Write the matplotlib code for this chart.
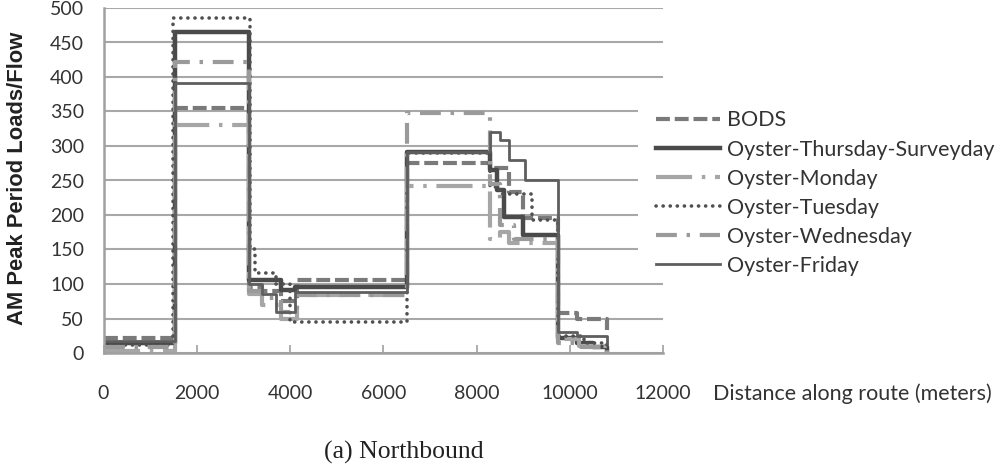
import matplotlib
matplotlib.use("Agg")
import matplotlib.pyplot as plt
from matplotlib.patches import Rectangle

plt.rcParams['lines.scale_dashes'] = False

# ---- data (distance in metres, load values; step-post) ----
labels = ["BODS", "Oyster-Thursday-Surveyday", "Oyster-Monday",
          "Oyster-Tuesday", "Oyster-Wednesday", "Oyster-Friday"]

bods_x = [0, 1530, 3120, 3400, 3800, 4150, 6500, 8300, 8700, 9000, 9750, 10150, 10800]
bods_y = [22, 355, 95, 90, 75, 106, 275, 268, 233, 196, 58, 50, 33]

thu_x = [0, 1530, 3120, 3800, 4100, 6500, 8300, 8450, 8600, 9000, 9750, 10150, 10500, 10800]
thu_y = [15, 465, 106, 91, 95, 291, 265, 236, 197, 171, 22, 15, 8, 0]

mon_x = [0, 1530, 3120, 3400, 3800, 4150, 6500, 8300, 8500, 8700, 9750, 10200, 10800]
mon_y = [3, 330, 85, 70, 50, 84, 242, 165, 175, 160, 20, 10, 0]

tue_x = [0, 1500, 3150, 3250, 3700, 4000, 6500, 8300, 8500, 9200, 9750, 10300, 10800]
tue_y = [12, 485, 150, 116, 100, 45, 290, 240, 230, 193, 25, 15, 5]

wed_x = [0, 1530, 3120, 3400, 3800, 4150, 6500, 8300, 8500, 8800, 9750, 10200, 10800]
wed_y = [8, 422, 90, 80, 60, 84, 348, 245, 185, 165, 15, 8, 0]

fri_x = [0, 1530, 3120, 3400, 3700, 4100, 6500, 8300, 8500, 8700, 9050, 9750, 10150, 10800]
fri_y = [18, 391, 100, 85, 60, 88, 292, 320, 309, 280, 251, 30, 25, 15]

x_ticks = [0, 2000, 4000, 6000, 8000, 10000, 12000]
y_ticks = [0, 50, 100, 150, 200, 250, 300, 350, 400, 450, 500]

series = [
    (bods_x, bods_y, dict(color="#7a7a7a", lw=3.0, dashes=(10, 3.5))),
    (thu_x, thu_y, dict(color="#4a4a4a", lw=3.2)),
    (mon_x, mon_y, dict(color="#a6a6a6", lw=3.0, dashes=(26, 7, 2.5, 7))),
    (tue_x, tue_y, dict(color="#505050", lw=2.6, dashes=(0.1, 5), dash_capstyle='round')),
    (wed_x, wed_y, dict(color="#9a9a9a", lw=3.0, dashes=(15, 7, 2.5, 7))),
    (fri_x, fri_y, dict(color="#5e5e5e", lw=2.0)),
]

fig = plt.figure(figsize=(9.99, 4.73), dpi=100)
ax = fig.add_axes([103.5 / 999, 1 - 353 / 473, (663 - 103.5) / 999, (353 - 8) / 473])

tick_font = "Lato"
txt_color = "#333333"

for (xs, ys, st), lab in zip(series, labels):
    ax.step(xs + [xs[-1]], ys + [ys[-1]], where="post", label=lab, **st)

ax.set_xlim(0, 12000)
ax.set_ylim(0, 500)
ax.set_xticks(x_ticks)
ax.set_yticks(y_ticks)
ax.set_xticklabels([str(v) for v in x_ticks], fontsize=14, family=tick_font, color=txt_color)
ax.set_yticklabels([str(v) for v in y_ticks], fontsize=14, family=tick_font, color=txt_color)
ax.tick_params(axis="x", direction="in", length=6, width=1.2, color="#a0a0a0", pad=23)
ax.tick_params(axis="y", length=0, pad=14)
ax.grid(axis="y", color="#a8a8a8", lw=1.5)
ax.set_axisbelow(True)
for s in ["top", "right"]:
    ax.spines[s].set_visible(False)
for s in ["left", "bottom"]:
    ax.spines[s].set_color("#a0a0a0")
    ax.spines[s].set_linewidth(1.8)

# white background of the legend area (covers gridlines as in the original)
fig.patches.append(Rectangle((638 / 999, 1 - 278 / 473), (999 - 638) / 999, (278 - 95) / 473,
                             transform=fig.transFigure, facecolor="white",
                             edgecolor="none", zorder=1))

leg = fig.legend(loc="upper left", bbox_to_anchor=(650 / 999, 1 - 104 / 473),
                 frameon=False,
                 prop=dict(family=tick_font, size=15.5), handlelength=2.95,
                 handletextpad=0.33, labelspacing=0.42, borderpad=0.3,
                 borderaxespad=0)
leg.set_zorder(5)
for t in leg.get_texts():
    t.set_color(txt_color)

fig.text(18 / 999, 1 - 178 / 473, "AM Peak Period Loads/Flow", rotation=90,
         ha="center", va="center", fontsize=15.8, fontweight="bold",
         family="Liberation Sans", color="#222222")
fig.text(713 / 999, 1 - 394 / 473, "Distance along route (meters)", ha="left",
         va="center", fontsize=15.5, family=tick_font, color=txt_color)
fig.text(404 / 999, 1 - 452 / 473, "(a) Northbound", ha="center", va="center",
         fontsize=18.5, family="Liberation Serif", color="#222222")

fig.savefig("out.png", dpi=100)
